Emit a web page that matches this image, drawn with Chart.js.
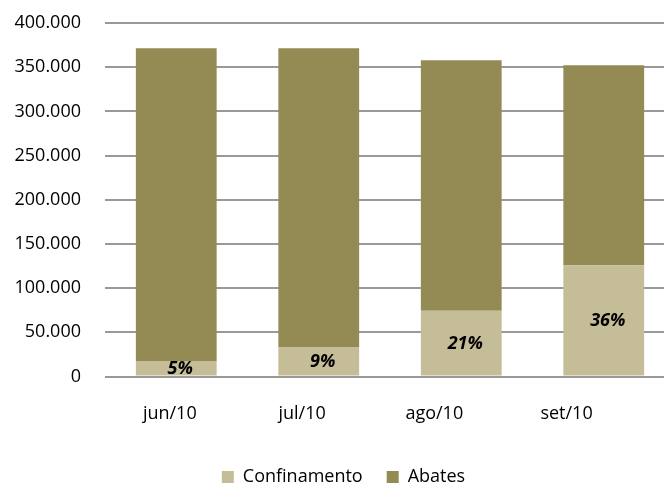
<!DOCTYPE html>
<html>
<head>
  <title>Confinamento x Abates</title>
  <script src="https://cdn.jsdelivr.net/npm/chart.js"></script>
  <style>
    body {
      margin: 0;
      background: #fff;
    }
    #wrap {
      width: 664px;
      height: 484px;
      overflow: hidden;
    }
  </style>
</head>
<body>
  <div id="wrap">
    <canvas id="chart" width="680" height="496"></canvas>
  </div>

  <script>
    const categories = ['jun/10', 'jul/10', 'ago/10', 'set/10'];
    const confinamento = [17500, 33400, 74400, 126000];
    const abates = [354000, 338100, 283500, 226300];
    const yTicks = [0, 50000, 100000, 150000, 200000, 250000, 300000, 350000, 400000];

    const FONT = '"Open Sans", sans-serif';

    function fmt(v) {
      return v.toLocaleString('pt-BR');
    }

    // share of confinamento in each bar, written inside the light segment
    const pctLabels = {
      id: 'pctLabels',
      afterDatasetsDraw(chart) {
        const ctx = chart.ctx;
        const meta = chart.getDatasetMeta(0);
        ctx.save();
        ctx.font = 'italic bold 18px ' + FONT;
        ctx.fillStyle = '#000';
        ctx.textAlign = 'center';
        ctx.textBaseline = 'middle';
        meta.data.forEach((bar, i) => {
          const total = confinamento[i] + abates[i];
          const pct = Math.round(confinamento[i] / total * 100) + '%';
          ctx.fillText(pct, bar.x + 4, (bar.y + bar.base) / 2 + 1);
        });
        ctx.restore();
      }
    };

    const ctx = document.getElementById('chart').getContext('2d');
    new Chart(ctx, {
      type: 'bar',
      data: {
        labels: categories,
        datasets: [
          {
            label: 'Confinamento',
            data: confinamento,
            backgroundColor: '#C4BD97'
          },
          {
            label: 'Abates',
            data: abates,
            backgroundColor: '#948A54'
          }
        ]
      },
      options: {
        responsive: false,
        animation: false,
        layout: {
          padding: { top: 23, left: 12, right: 5, bottom: 0 }
        },
        datasets: {
          bar: {
            barPercentage: 0.567,
            categoryPercentage: 1
          }
        },
        scales: {
          x: {
            stacked: true,
            grid: { display: false, drawTicks: false },
            border: { display: false },
            ticks: { display: false }
          },
          // category names sit on their own axis, slightly narrower than the bars' one
          xl: {
            type: 'linear',
            position: 'bottom',
            offset: false,
            min: -0.49,
            max: 3.82,
            grid: { display: false, drawTicks: false },
            border: { display: false },
            afterFit: axis => { axis.height = 67.5; },
            ticks: {
              stepSize: 1,
              includeBounds: false,
              padding: 27,
              maxRotation: 0,
              color: '#000',
              font: { family: FONT, size: 18 },
              callback: v => categories[v] || ''
            }
          },
          y: {
            stacked: true,
            min: 0,
            max: 400000,
            afterBuildTicks: axis => {
              axis.ticks = yTicks.map(v => ({ value: v }));
            },
            afterFit: axis => {
              axis.width = 93;
              axis.paddingTop = 0;
              axis.paddingBottom = 0;
            },
            grid: {
              color: '#999',
              lineWidth: 2,
              drawTicks: false
            },
            border: { display: false },
            ticks: {
              padding: 24,
              color: '#000',
              font: { family: FONT, size: 18 },
              callback: v => fmt(v)
            }
          }
        },
        plugins: {
          legend: {
            position: 'bottom',
            labels: {
              boxWidth: 12,
              boxHeight: 12,
              padding: 24,
              color: '#000',
              font: { family: FONT, size: 18 }
            }
          },
          tooltip: { enabled: false }
        }
      },
      plugins: [pctLabels]
    });
  </script>
</body>
</html>
